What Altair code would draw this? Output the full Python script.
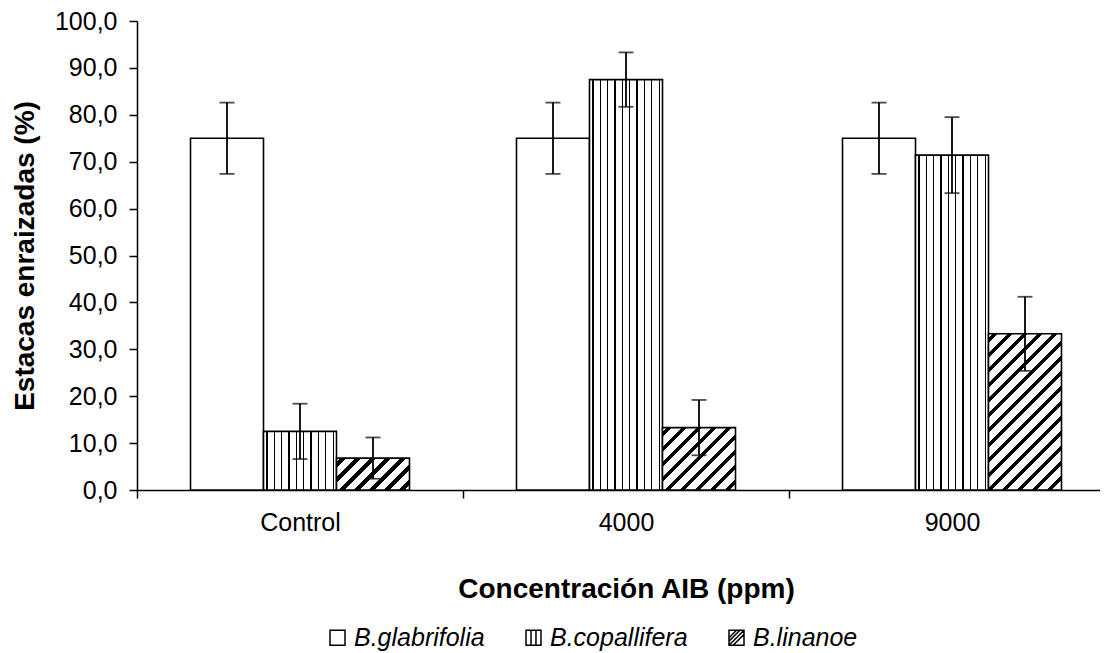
import altair as alt
import pandas as pd

# ---------------- data ----------------
conc = ["Control", "4000", "9000"]
species = ["B.glabrifolia", "B.copallifera", "B.linanoe"]
glab_vals = [75.0, 75.0, 75.0]
glab_err = [7.6, 7.6, 7.6]
cop_vals = [12.5, 87.5, 71.4]
cop_err = [5.9, 5.8, 8.1]
lin_vals = [6.8, 13.3, 33.3]
lin_err = [4.4, 5.9, 7.9]

rows = []
for sp, vals, errs in zip(species, [glab_vals, cop_vals, lin_vals],
                          [glab_err, cop_err, lin_err]):
    for c, v, e in zip(conc, vals, errs):
        rows.append({"conc": c, "species": sp, "value": v, "err": e})
df = pd.DataFrame(rows)

# ---------------- layout ----------------
TOP = 13
PLOT_W = 963
PLOT_H = 469
STEP = 326
BAR_W = 73
FONT = "Liberation Sans"


def vstripes(width, first=3.5, period=7.35, lw=1.3):
    stops = [{"offset": 0, "color": "white"}]
    pos = first
    while pos < width - 1:
        a = (pos - lw / 2) / width
        b = (pos + lw / 2) / width
        stops += [{"offset": a, "color": "white"}, {"offset": a, "color": "black"},
                  {"offset": b, "color": "black"}, {"offset": b, "color": "white"}]
        pos += period
    stops.append({"offset": 1, "color": "white"})
    return {"gradient": "linear", "x1": 0, "y1": 0, "x2": 1, "y2": 0, "stops": stops}


def dstripes(w, h, period=15.0, black=5.5, phase=4.0):
    s = w + h
    k = w * w + h * h
    x2 = w * s / k
    y2 = h * s / k
    stops = [{"offset": 0, "color": "white"}]
    pos = phase
    while pos < s:
        a = max(pos / s, 0.0)
        b = min((pos + black) / s, 1.0)
        stops += [{"offset": a, "color": "white"}, {"offset": a, "color": "black"},
                  {"offset": b, "color": "black"}, {"offset": b, "color": "white"}]
        pos += period
    stops.append({"offset": 1, "color": "white"})
    return {"gradient": "linear", "x1": 0, "y1": 0, "x2": x2, "y2": y2, "stops": stops}


po = (STEP / BAR_W - 3) / 2

X = alt.X("conc:N", sort=conc,
          scale=alt.Scale(domain=conc, range=[0, 3 * STEP], paddingInner=0, paddingOuter=0),
          axis=alt.Axis(title="Concentración AIB (ppm)", labelAngle=0, tickBand="extent",
                        tickSize=8, labelPadding=12, titleY=107,
                        titleBaseline="alphabetic"))
XO = alt.XOffset("species:N", sort=species,
                 scale=alt.Scale(domain=species, paddingOuter=po, paddingInner=0))

YTITLE = "Estacas enraizadas (%)"
yaxis = alt.Axis(title=YTITLE, values=list(range(0, 101, 10)), tickSize=8,
                 labelPadding=12, titleX=-104, titleBaseline="alphabetic",
                 labelExpr="replace(format(datum.value, '.1f'), '.', ',')")
yscale = alt.Scale(domain=[0, 100], nice=False, zero=True)


def Y(field):
    return alt.Y(field, type="quantitative", scale=yscale, axis=yaxis, title=YTITLE)


base = alt.Chart(df).encode(x=X, xOffset=XO)
bar_style = dict(stroke="black", strokeWidth=1.6)

layers = []
layers.append(base.transform_filter(alt.datum.species == species[0])
              .mark_bar(fill="white", **bar_style).encode(y=Y("value")))
layers.append(base.transform_filter(alt.datum.species == species[1])
              .mark_bar(fill=vstripes(BAR_W), **bar_style).encode(y=Y("value")))
for c, v in zip(conc, lin_vals):
    layers.append(base.transform_filter((alt.datum.species == species[2]) & (alt.datum.conc == c))
                  .mark_bar(fill=dstripes(BAR_W, v * PLOT_H / 100.0), **bar_style)
                  .encode(y=Y("value")))

err = base.transform_calculate(lo="datum.value - datum.err", hi="datum.value + datum.err")
layers.append(err.mark_rule(color="black", strokeWidth=1.8).encode(y=Y("lo:Q"), y2="hi:Q"))
layers.append(err.mark_tick(color="black", size=15, thickness=1.8).encode(y=Y("lo:Q")))
layers.append(err.mark_tick(color="black", size=15, thickness=1.8).encode(y=Y("hi:Q")))

sq = "M-1,-1L1,-1L1,1L-1,1Z"
shape_paths = [
    sq,
    sq + "M-0.33,-1L-0.33,1M0.33,-1L0.33,1",
    sq + "M-1,1L1,-1M-1,0.45L0.45,-1M-0.45,1L1,-0.45M-1,0L0,-1",
]
layers.append(base.mark_point(filled=False, color="black", opacity=0, strokeWidth=1.5)
              .encode(y=Y("value"),
                      shape=alt.Shape("species:N", sort=species,
                                      scale=alt.Scale(domain=species, range=shape_paths),
                                      legend=alt.Legend(title=None, orient="none",
                                                        direction="horizontal",
                                                        legendX=188, legendY=604,
                                                        symbolOpacity=1, symbolSize=225,
                                                        symbolStrokeWidth=1.5,
                                                        symbolStrokeColor="black",
                                                        labelFont=FONT, labelFontSize=25,
                                                        labelFontStyle="italic",
                                                        labelColor="black",
                                                        labelOffset=4, columnPadding=36,
                                                        padding=0))))

chart = (alt.layer(*layers)
         .properties(width=PLOT_W, height=PLOT_H,
                     autosize=alt.AutoSizeParams(type="none"),
                     padding={"left": 129, "top": TOP, "right": 0, "bottom": 645 - TOP - PLOT_H})
         .configure_view(stroke=None)
         .configure_axis(domainColor="black", domainWidth=1.5, tickColor="black",
                         tickWidth=1.5, labelColor="black", titleColor="black",
                         labelFont=FONT, titleFont=FONT, labelFontSize=25,
                         titleFontSize=28, titleFontWeight="bold", grid=False))

chart.save("out.html", embed_options={"renderer": "svg", "actions": False})
